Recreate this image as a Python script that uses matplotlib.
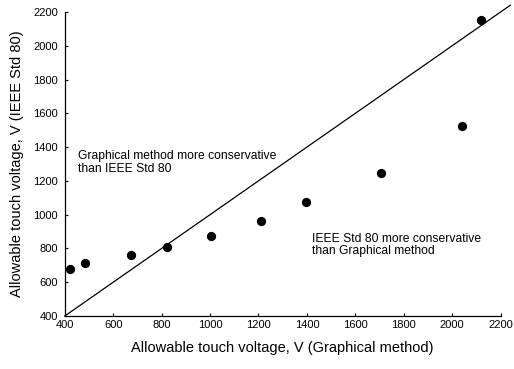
import matplotlib
matplotlib.use("Agg")
import matplotlib.pyplot as plt

plt.rcParams['font.family'] = ['Liberation Sans', 'DejaVu Sans']

graphical = [421, 484, 675, 822, 1003, 1212, 1397, 1704, 2040, 2119]
ieee = [680, 711, 759, 808, 875, 960, 1072, 1244, 1524, 2153]
line_x = [400, 2240]
line_y = [400, 2240]
xticks = [400, 600, 800, 1000, 1200, 1400, 1600, 1800, 2000, 2200]
yticks = [400, 600, 800, 1000, 1200, 1400, 1600, 1800, 2000, 2200]

fig = plt.figure(figsize=(5.14, 3.69), dpi=100)
ax = fig.add_axes([0.126, 0.1436, 0.848, 0.824])
ax.plot(line_x, line_y, color='black', lw=0.9, clip_on=False)
ax.scatter(graphical, ieee, s=32, color='black', zorder=3, clip_on=False)
ax.set_xlim(400, 2200)
ax.set_ylim(400, 2200)
ax.set_xticks(xticks)
ax.set_yticks(yticks)
ax.tick_params(direction='in', length=2.5, width=0.8, labelsize=8)
ax.tick_params(axis='y', pad=5)
ax.tick_params(axis='x', pad=3)
for s in ['top', 'right']:
    ax.spines[s].set_visible(False)
for s in ['left', 'bottom']:
    ax.spines[s].set_linewidth(0.9)
ax.set_xlabel('Allowable touch voltage, V (Graphical method)', fontsize=10.5, labelpad=8)
ax.set_ylabel('Allowable touch voltage, V (IEEE Std 80)', fontsize=10.5, labelpad=6.5)
ax.text(454, 1309, 'Graphical method more conservative\nthan IEEE Std 80', fontsize=8.7, va='center', ha='left', linespacing=1.05)
ax.text(1420, 820, 'IEEE Std 80 more conservative\nthan Graphical method', fontsize=8.7, va='center', ha='left', linespacing=1.05)
fig.savefig('out.png', dpi=100)
